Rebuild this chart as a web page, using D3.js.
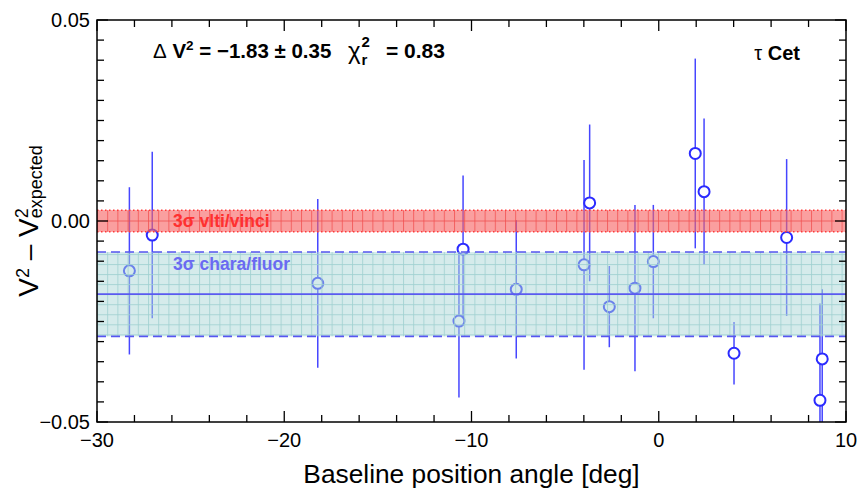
<!DOCTYPE html>
<html>
<head>
<meta charset="utf-8">
<script src="https://cdn.jsdelivr.net/npm/d3@7"></script>
<style>
html,body{margin:0;padding:0;background:#fff;}
svg{display:block;font-family:"Liberation Sans",Arial,Helvetica,sans-serif;}
</style>
</head>
<body>
<svg id="chart" width="862" height="489"></svg>
<script>
// ---- data ----
const angle = [-28.27, -27.05, -18.21, -10.67, -10.45, -7.61, -3.99, -3.69, -2.64, -1.27, -0.29, 1.95, 2.42, 4.02, 6.83, 8.73, 8.61];
const dv2   = [-0.0124, -0.0035, -0.0155, -0.0249, -0.0070, -0.0170, -0.0109, 0.0045, -0.0213, -0.0167, -0.0101, 0.0168, 0.0073, -0.0329, -0.0041, -0.0343, -0.0446];
const dv2Err = [0.0208, 0.0207, 0.0210, 0.0190, 0.0183, 0.0172, 0.0261, 0.0195, 0.0101, 0.0207, 0.0141, 0.0236, 0.0182, 0.0078, 0.0195, 0.0173, 0.0241];

const vltiCenter = 0.0, vltiHalf = 0.0027;          // 3 sigma vlti/vinci band
const charaCenter = -0.0182, charaHalf = 0.0105;    // 3 sigma chara/fluor band

const xTickLabels = [-30, -20, -10, 0, 10];
const yTickLabels = [-0.05, 0.00, 0.05];

// ---- layout ----
const L = 97, T = 20, R = 846, B = 422;
const svg = d3.select("#chart");
const x = d3.scaleLinear().domain([-30, 10]).range([L, R]);
const y = d3.scaleLinear().domain([-0.05, 0.05]).range([B, T]);

const defs = svg.append("defs");
defs.append("clipPath").attr("id", "plotclip")
  .append("rect").attr("x", L).attr("y", T).attr("width", R - L).attr("height", B - T);

// band patterns
const rh = y(-vltiHalf) - y(vltiHalf);
const rp = defs.append("pattern").attr("id", "redgrid").attr("patternUnits", "userSpaceOnUse")
  .attr("x", L).attr("y", y(vltiHalf)).attr("width", 10.2).attr("height", rh);
rp.append("rect").attr("width", 10.2).attr("height", rh).attr("fill", "rgb(246,100,100)").attr("fill-opacity", 0.62);
rp.append("line").attr("x1", 0.5).attr("x2", 0.5).attr("y1", 0).attr("y2", rh).attr("stroke", "#f04848").attr("stroke-width", 1).attr("stroke-opacity", 0.7);
rp.append("line").attr("x1", 0).attr("x2", 10.2).attr("y1", rh / 2).attr("y2", rh / 2).attr("stroke", "#f04848").attr("stroke-width", 1).attr("stroke-opacity", 0.7);

const bp = defs.append("pattern").attr("id", "bluegrid").attr("patternUnits", "userSpaceOnUse")
  .attr("x", L).attr("y", y(charaCenter)).attr("width", 10.2).attr("height", 10.05);
bp.append("rect").attr("width", 10.2).attr("height", 10.05).attr("fill", "rgb(172,216,216)").attr("fill-opacity", 0.5);
bp.append("line").attr("x1", 0.5).attr("x2", 0.5).attr("y1", 0).attr("y2", 10.05).attr("stroke", "#9fd0d0").attr("stroke-width", 1).attr("stroke-opacity", 0.8);
bp.append("line").attr("x1", 0).attr("x2", 10.2).attr("y1", 0.5).attr("y2", 0.5).attr("stroke", "#9fd0d0").attr("stroke-width", 1).attr("stroke-opacity", 0.8);

const plot = svg.append("g").attr("clip-path", "url(#plotclip)");

// data points
const pts = angle.map((a, i) => ({a, v: dv2[i], e: dv2Err[i]}));
plot.append("g").selectAll("line").data(pts).join("line")
  .attr("x1", d => x(d.a)).attr("x2", d => x(d.a))
  .attr("y1", d => y(d.v + d.e)).attr("y2", d => y(d.v - d.e))
  .attr("stroke", "#4646ff").attr("stroke-width", 1.5);
plot.append("g").selectAll("circle").data(pts).join("circle")
  .attr("cx", d => x(d.a)).attr("cy", d => y(d.v)).attr("r", 5.5)
  .attr("fill", "#fff").attr("stroke", "#2b2bff").attr("stroke-width", 2);

// chara/fluor band
plot.append("rect").attr("x", L).attr("width", R - L)
  .attr("y", y(charaCenter + charaHalf)).attr("height", y(charaCenter - charaHalf) - y(charaCenter + charaHalf))
  .attr("fill", "url(#bluegrid)");
[charaCenter + charaHalf, charaCenter - charaHalf].forEach(v => {
  plot.append("line").attr("x1", L).attr("x2", R).attr("y1", y(v)).attr("y2", y(v))
    .attr("stroke", "#5656f0").attr("stroke-width", 1.6).attr("stroke-dasharray", "9,5");
});
plot.append("line").attr("x1", L).attr("x2", R).attr("y1", y(charaCenter)).attr("y2", y(charaCenter))
  .attr("stroke", "#5a5af0").attr("stroke-width", 1.6);

// vlti/vinci band
plot.append("rect").attr("x", L).attr("width", R - L)
  .attr("y", y(vltiCenter + vltiHalf)).attr("height", y(vltiCenter - vltiHalf) - y(vltiCenter + vltiHalf))
  .attr("fill", "url(#redgrid)");
[vltiCenter + vltiHalf, vltiCenter - vltiHalf].forEach(v => {
  plot.append("line").attr("x1", L).attr("x2", R).attr("y1", y(v)).attr("y2", y(v))
    .attr("stroke", "#ff3a3a").attr("stroke-width", 1.5).attr("stroke-dasharray", "1.5,2.5");
});

// band labels
svg.append("text").attr("x", 173).attr("y", y(vltiCenter) + 6).attr("font-size", 17.5).attr("font-weight", "bold")
  .attr("fill", "#ff3030").text("3σ vlti/vinci");
svg.append("text").attr("x", 173).attr("y", y(charaCenter + charaHalf) + 18).attr("font-size", 17.5).attr("font-weight", "bold")
  .attr("fill", "#6a6af2").text("3σ chara/fluor");

// frame
svg.append("rect").attr("x", L).attr("y", T).attr("width", R - L).attr("height", B - T)
  .attr("fill", "none").attr("stroke", "#000").attr("stroke-width", 1.5);

// ticks (inward on all sides)
const xt = d3.range(-30, 10.001, 2);
const isMajX = v => Math.abs(v % 10) < 1e-6;
const ticks = svg.append("g").attr("stroke", "#000").attr("stroke-width", 1.3);
ticks.selectAll(".xb").data(xt).join("line")
  .attr("x1", d => x(d)).attr("x2", d => x(d)).attr("y1", B).attr("y2", d => B - (isMajX(d) ? 11 : 7));
ticks.selectAll(".xt").data(xt).join("line")
  .attr("x1", d => x(d)).attr("x2", d => x(d)).attr("y1", T).attr("y2", d => T + (isMajX(d) ? 11 : 7));
const yt = d3.range(-10, 10.001, 1).map(i => i * 0.005);
const isMajY = v => Math.abs(Math.round(v * 1000) % 50) === 0;
ticks.selectAll(".yl").data(yt).join("line")
  .attr("y1", d => y(d)).attr("y2", d => y(d)).attr("x1", L).attr("x2", d => L + (isMajY(d) ? 11 : 7));
ticks.selectAll(".yr").data(yt).join("line")
  .attr("y1", d => y(d)).attr("y2", d => y(d)).attr("x1", R).attr("x2", d => R - (isMajY(d) ? 11 : 7));

// tick labels
const fmtMinus = s => s.replace("-", "\u2212");
svg.append("g").selectAll("text").data(xTickLabels).join("text")
  .attr("x", d => x(d)).attr("y", 447).attr("text-anchor", "middle").attr("font-size", 20)
  .text(d => fmtMinus(d3.format("d")(d)));
svg.append("g").selectAll("text").data(yTickLabels).join("text")
  .attr("x", 90).attr("y", d => y(d) + 7).attr("text-anchor", "end").attr("font-size", 20)
  .text(d => fmtMinus(d3.format(".2f")(d === 0 ? 0 : d)));

// axis titles
svg.append("text").attr("x", (L + R) / 2).attr("y", 483).attr("text-anchor", "middle").attr("font-size", 26.3)
  .text("Baseline position angle [deg]");

const yl = svg.append("text").attr("transform", `translate(38,${(T + B) / 2}) rotate(-90)`)
  .attr("text-anchor", "middle").attr("font-size", 28);
yl.append("tspan").text("V");
yl.append("tspan").attr("font-size", 18).attr("dy", -9).text("2");
yl.append("tspan").attr("dy", 9).text(" \u2013 V");
const s2 = yl.append("tspan").attr("font-size", 18).attr("dy", -10).text("2");
const w2 = s2.node().getComputedTextLength();
yl.append("tspan").attr("font-size", 18).attr("dx", -w2).attr("dy", 14).text("expected");

// annotation
const ann = svg.append("text").attr("x", 153).attr("y", 58).attr("font-size", 20.5).attr("font-weight", "bold");
ann.append("tspan").attr("font-weight", "normal").text("Δ");
ann.append("tspan").text(" V");
ann.append("tspan").attr("font-size", 13.5).attr("dy", -8).text("2");
ann.append("tspan").attr("dy", 8).text(" = \u22121.83 ± 0.35");

const chi = svg.append("text").attr("x", 348).attr("y", 59).attr("font-size", 24);
chi.append("tspan").text("χ");
const c2 = chi.append("tspan").attr("font-size", 15).attr("font-weight", "bold").attr("dx", 1).attr("dy", -12).text("2");
const wc = c2.node().getComputedTextLength();
chi.append("tspan").attr("font-size", 15).attr("font-weight", "bold").attr("dx", -wc).attr("dy", 18).text("r");
svg.append("text").attr("x", 386).attr("y", 58).attr("font-size", 21).attr("font-weight", "bold")
  .text("= 0.83");

svg.append("text").attr("x", 800).attr("y", 60).attr("text-anchor", "end").attr("font-size", 20).attr("font-weight", "bold")
  .call(t => { t.append("tspan").attr("font-weight", "normal").text("τ"); t.append("tspan").text(" Cet"); });
</script>
</body>
</html>
